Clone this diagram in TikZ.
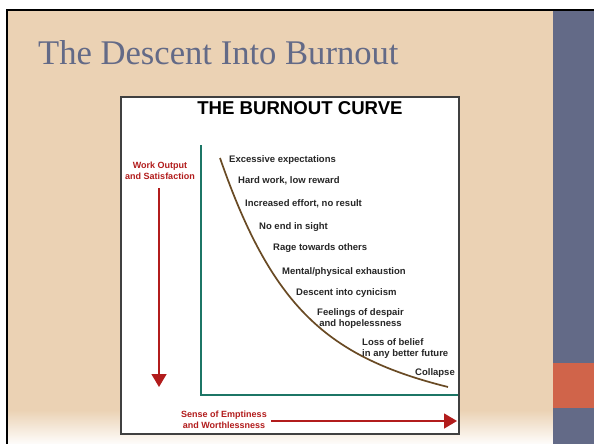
\documentclass[tikz,border=0pt]{standalone}
\usepackage{fontspec}
\setmainfont{Liberation Serif}
\newfontfamily\chartfont{Liberation Sans}
\usetikzlibrary{arrows.meta}

\definecolor{slidebeige}{RGB}{235,210,180}
\definecolor{slideblue}{RGB}{99,106,135}
\definecolor{slideorange}{RGB}{208,100,74}
\definecolor{axisteal}{RGB}{28,118,102}
\definecolor{curvebrown}{RGB}{105,74,36}
\definecolor{axisred}{RGB}{178,28,28}

\tikzset{
  stage/.style={anchor=west, inner sep=0pt, text=black!85,
    font=\chartfont\bfseries\fontsize{9.5}{11}\selectfont},
  axislabel/.style={inner sep=0pt, text=axisred, align=center,
    font=\chartfont\bfseries\fontsize{9}{10.5}\selectfont},
  redarrow/.style={axisred, line width=1.5pt, -{Triangle[length=13pt,width=15pt]}}
}

\begin{document}
\begin{tikzpicture}[x=1pt,y=-1pt]
\useasboundingbox (0,0) rectangle (594,444);

%fond de la diapositive

\fill[white] (0,0) rectangle (594,444);
\fill[slidebeige] (7,10) rectangle (553,410);
\shade[top color=slidebeige, bottom color=white!95!slidebeige] (7,410) rectangle (553,444);
\fill[slideblue] (553,10) rectangle (594,444);
\fill[slideorange] (553,363) rectangle (594,408);
\draw[line width=2.2pt] (7,444) -- (7,10) -- (594,10);

\node[anchor=base west, inner sep=0pt, text=slideblue, font=\fontsize{34.6}{40}\selectfont] (title) at (38,65) {The Descent Into Burnout};

%le graphique

\filldraw[fill=white, draw=black!75, line width=1.8pt] (121,97) rectangle (459,434);
\node[inner sep=0pt, font=\chartfont\bfseries\fontsize{18.6}{20}\selectfont] (charttitle) at (300,108) {THE BURNOUT CURVE};

\draw[axisteal, line width=1.6pt] (201,145) -- (201,395) -- (458,395);
\draw[curvebrown, line width=1.7pt] (220,158) .. controls (272,308) and (328,357) .. (448,387);

%les étapes

\node[stage] (excess) at (229,160) {Excessive expectations};
\node[stage] (hardwork) at (238,181) {Hard work, low reward};
\node[stage] (effort) at (245,204) {Increased effort, no result};
\node[stage] (noend) at (259,227) {No end in sight};
\node[stage] (rage) at (273,248) {Rage towards others};
\node[stage] (exhaust) at (282,272) {Mental/physical exhaustion};
\node[stage] (cynic) at (296,293) {Descent into cynicism};
\node[stage, align=center] (despair) at (317,318.5) {Feelings of despair\\and hopelessness};
\node[stage, align=left] (belief) at (362,348.5) {Loss of belief\\in any better future};
\node[stage] (collapse) at (415,373) {Collapse};

%les axes

\node[axislabel] (worklabel) at (160,171) {Work Output\\and Satisfaction};
\coordinate (worktop) at (159,188);
\coordinate (workbot) at (159,387);
\draw[redarrow] (worktop) -- (workbot);

\node[axislabel] (emptylabel) at (224,420) {Sense of Emptiness\\and Worthlessness};
\coordinate (emptyleft) at (271,421);
\coordinate (emptyright) at (457,421);
\draw[redarrow] (emptyleft) -- (emptyright);
\end{tikzpicture}
\end{document}
